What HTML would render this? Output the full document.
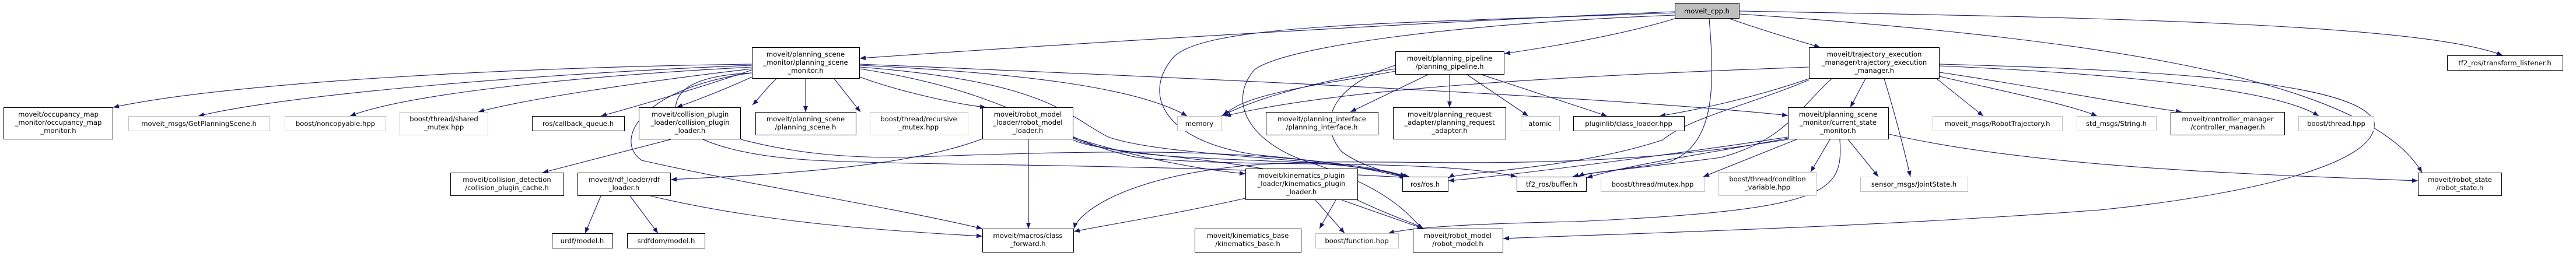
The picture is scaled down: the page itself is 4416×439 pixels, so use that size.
<!DOCTYPE html>
<html><head><meta charset="utf-8"><style>
html,body{margin:0;padding:0;background:#fff;}
svg{display:block;}
text{font-family:"DejaVu Sans","Liberation Sans",sans-serif;font-size:11.6px;fill:#000;text-anchor:middle;}
.n rect{fill:#fff;stroke:#000;stroke-width:1;}
.g rect{fill:#fff;stroke:#bfbfbf;stroke-width:1;}
.e{fill:none;stroke:#191970;stroke-width:1.1;marker-end:url(#a);}
</style></head><body>
<svg width="4416" height="439" viewBox="0 0 4416 439" xmlns="http://www.w3.org/2000/svg">
<defs><marker id="a" viewBox="0 0 10 8" refX="10" refY="4" markerWidth="10" markerHeight="8" markerUnits="userSpaceOnUse" orient="auto"><path d="M0,0 L10,4 L0,8 z" fill="#191970"/></marker></defs>

<!-- edges from moveit_cpp -->
<path class="e" d="M2871,20 C2500,35 1900,70 1474,100"/>
<path class="e" d="M2871,32 C2780,60 2660,80 2579,92"/>
<path class="e" d="M2965,32 C3030,55 3090,72 3120,81"/>
<path class="e" d="M2982,19 C3600,30 4150,40 4290,95"/>
<path class="e" d="M2982,24 C3500,60 4050,120 4152,296"/>
<path class="e" d="M2930,32 C2940,150 2940,250 2860,278 C2790,290 2730,295 2696,303"/>
<path class="e" d="M2871,22 C2400,40 2060,40 2010,100 C1960,160 1990,240 2150,265 C2300,280 2380,290 2410,303"/>
<path class="e" d="M2871,26 C2500,40 2200,80 2150,120 C2100,180 2150,250 2250,280 C2400,330 2420,380 2440,392"/>

<!-- edges from planning_scene_monitor -->
<path class="e" d="M1289,110 C900,115 400,140 194,184"/>
<path class="e" d="M1289,112 C950,125 500,160 340,199"/>
<path class="e" d="M1289,115 C1000,130 700,160 600,199"/>
<path class="e" d="M1289,118 C1100,140 900,170 820,192"/>
<path class="e" d="M1289,120 C1200,150 1100,180 1030,199"/>
<path class="e" d="M1289,132 C1250,150 1200,170 1160,184"/>
<path class="e" d="M1331,135 C1310,155 1300,170 1290,180"/>
<path class="e" d="M1381,135 L1381,192"/>
<path class="e" d="M1430,135 L1475,192"/>
<path class="e" d="M1474,132 C1550,160 1650,180 1690,184"/>
<path class="e" d="M1474,112 C1750,125 1950,150 2035,199"/>
<path class="e" d="M1474,110 C2200,140 2800,170 3065,198"/>
<path class="e" d="M1474,115 C1800,140 1830,200 1900,235 C2000,270 2300,270 2410,303"/>
<path class="e" d="M1474,118 C1750,160 1800,240 1950,270 C2150,290 2450,270 2600,303"/>
<path class="e" d="M1289,125 C1180,130 1150,160 1160,200 C1180,250 1300,270 1400,275 C1600,285 2000,280 2420,305"/>
<path class="e" d="M1289,125 C1100,150 1050,240 1100,275 C1300,320 1500,350 1684,392"/>

<!-- collision_plugin_loader -->
<path class="e" d="M1150,239 L930,296"/>
<path class="e" d="M1270,239 C1350,260 1450,275 1600,268 C1900,258 2200,250 2410,305"/>

<!-- robot_model_loader -->
<path class="e" d="M1684,238 C1550,290 1300,300 1150,308"/>
<path class="e" d="M1763,239 L1763,392"/>
<path class="e" d="M1840,236 C1950,270 2050,290 2135,298"/>
<path class="e" d="M1840,237 C1950,290 2300,260 2410,305"/>
<path class="e" d="M1840,240 C1900,270 2200,270 2300,330 C2380,370 2420,380 2440,392"/>

<!-- rdf_loader -->
<path class="e" d="M1030,336 L1003,400"/>
<path class="e" d="M1080,336 L1128,400"/>
<path class="e" d="M1115,336 C1300,380 1500,395 1684,405"/>

<!-- kinematics_plugin_loader -->
<path class="e" d="M2135,340 C2000,370 1900,385 1841,397"/>
<path class="e" d="M2290,343 L2262,392"/>
<path class="e" d="M2255,343 L2305,400"/>
<path class="e" d="M2300,343 L2440,392"/>

<!-- planning_pipeline -->
<path class="e" d="M2448,128 L2315,192"/>
<path class="e" d="M2485,128 L2485,184"/>
<path class="e" d="M2515,128 L2620,199"/>
<path class="e" d="M2540,128 L2755,199"/>
<path class="e" d="M2392,118 C2250,140 2150,170 2094,199"/>
<path class="e" d="M2392,122 C2300,140 2120,160 2100,199"/>
<path class="e" d="M2392,112 C2300,140 2250,200 2300,260 C2340,290 2400,300 2416,303"/>

<!-- trajectory_execution_manager -->
<path class="e" d="M3101,135 C3000,170 2900,190 2845,199"/>
<path class="e" d="M3198,135 L3172,184"/>
<path class="e" d="M3230,135 C3250,200 3265,260 3275,303"/>
<path class="e" d="M3320,135 L3400,199"/>
<path class="e" d="M3325,131 C3450,160 3550,180 3595,199"/>
<path class="e" d="M3325,124 C3500,150 3650,180 3740,192"/>
<path class="e" d="M3325,113 C3600,125 3900,150 3975,199"/>
<path class="e" d="M3101,115 C2700,130 2300,150 2100,199"/>
<path class="e" d="M3101,137 C3000,180 2900,200 2850,240 C2700,290 2500,295 2483,305"/>
<path class="e" d="M3140,135 C3080,190 3060,240 2950,270 C2800,290 2720,295 2706,303"/>
<path class="e" d="M3325,110 C3700,120 4050,140 4070,210 C4080,290 3800,340 3600,360 C3200,390 2800,400 2577,409"/>

<!-- current_state_monitor -->
<path class="e" d="M3065,235 C2900,260 2600,300 2483,310"/>
<path class="e" d="M3065,237 C2950,260 2800,280 2720,305"/>
<path class="e" d="M3080,239 L2920,303"/>
<path class="e" d="M3137,239 L3104,295"/>
<path class="e" d="M3168,239 L3220,303"/>
<path class="e" d="M3154,239 C3160,330 3140,360 2700,380 C2450,385 2400,395 2380,400"/>
<path class="e" d="M3238,230 C3500,290 3900,300 4145,310"/>
<path class="e" d="M3065,239 C2700,300 2400,270 2200,280 C1950,290 1850,360 1841,392"/>

<!-- nodes -->
<g class="n"><rect x="2871.5" y="5.5" width="110" height="26" style="fill:#bfbfbf"/><text x="2926" y="23">moveit_cpp.h</text></g>
<g class="n"><rect x="1289.5" y="81.5" width="184" height="53"/><text x="1381" y="97">moveit/planning_scene</text><text x="1381" y="111">_monitor/planning_scene</text><text x="1381" y="125">_monitor.h</text></g>
<g class="n"><rect x="2392.5" y="88.5" width="186" height="39"/><text x="2485" y="104">moveit/planning_pipeline</text><text x="2485" y="118">/planning_pipeline.h</text></g>
<g class="n"><rect x="3101.5" y="81.5" width="223" height="53"/><text x="3213" y="97">moveit/trajectory_execution</text><text x="3213" y="111">_manager/trajectory_execution</text><text x="3213" y="125">_manager.h</text></g>
<g class="n"><rect x="4195.5" y="95.5" width="198" height="25"/><text x="4294" y="112">tf2_ros/transform_listener.h</text></g>

<g class="n"><rect x="6.5" y="184.5" width="187" height="54"/><text x="100" y="200">moveit/occupancy_map</text><text x="100" y="214">_monitor/occupancy_map</text><text x="100" y="228">_monitor.h</text></g>
<g class="g"><rect x="220.5" y="199.5" width="242" height="25"/><text x="341" y="216">moveit_msgs/GetPlanningScene.h</text></g>
<g class="g"><rect x="488.5" y="199.5" width="173" height="25"/><text x="575" y="216">boost/noncopyable.hpp</text></g>
<g class="g"><rect x="685.5" y="192.5" width="151" height="39"/><text x="761" y="208">boost/thread/shared</text><text x="761" y="222">_mutex.hpp</text></g>
<g class="n"><rect x="912.5" y="199.5" width="158" height="25"/><text x="991" y="216">ros/callback_queue.h</text></g>
<g class="n"><rect x="1095.5" y="184.5" width="174" height="54"/><text x="1183" y="200">moveit/collision_plugin</text><text x="1183" y="214">_loader/collision_plugin</text><text x="1183" y="228">_loader.h</text></g>
<g class="n"><rect x="1295.5" y="192.5" width="172" height="39"/><text x="1381" y="208">moveit/planning_scene</text><text x="1381" y="222">/planning_scene.h</text></g>
<g class="g"><rect x="1491.5" y="192.5" width="168" height="39"/><text x="1575" y="208">boost/thread/recursive</text><text x="1575" y="222">_mutex.hpp</text></g>
<g class="n"><rect x="1684.5" y="184.5" width="155" height="54"/><text x="1762" y="200">moveit/robot_model</text><text x="1762" y="214">_loader/robot_model</text><text x="1762" y="228">_loader.h</text></g>
<g class="g"><rect x="2018.5" y="199.5" width="75" height="25"/><text x="2056" y="216">memory</text></g>
<g class="n"><rect x="2170.5" y="192.5" width="192" height="39"/><text x="2266" y="208">moveit/planning_interface</text><text x="2266" y="222">/planning_interface.h</text></g>
<g class="n"><rect x="2388.5" y="184.5" width="193" height="54"/><text x="2485" y="200">moveit/planning_request</text><text x="2485" y="214">_adapter/planning_request</text><text x="2485" y="228">_adapter.h</text></g>
<g class="g"><rect x="2607.5" y="199.5" width="66" height="25"/><text x="2640" y="216">atomic</text></g>
<g class="n"><rect x="2697.5" y="199.5" width="190" height="25"/><text x="2792" y="216">pluginlib/class_loader.hpp</text></g>
<g class="n"><rect x="3065.5" y="184.5" width="172" height="54"/><text x="3151" y="200">moveit/planning_scene</text><text x="3151" y="214">_monitor/current_state</text><text x="3151" y="228">_monitor.h</text></g>
<g class="g"><rect x="3313.5" y="199.5" width="222" height="25"/><text x="3424" y="216">moveit_msgs/RobotTrajectory.h</text></g>
<g class="g"><rect x="3560.5" y="199.5" width="136" height="25"/><text x="3628" y="216">std_msgs/String.h</text></g>
<g class="n"><rect x="3721.5" y="192.5" width="195" height="39"/><text x="3819" y="208">moveit/controller_manager</text><text x="3819" y="222">/controller_manager.h</text></g>
<g class="g"><rect x="3940.5" y="199.5" width="129" height="25"/><text x="4005" y="216">boost/thread.hpp</text></g>

<g class="n"><rect x="772.5" y="296.5" width="194" height="39"/><text x="869" y="312">moveit/collision_detection</text><text x="869" y="326">/collision_plugin_cache.h</text></g>
<g class="n"><rect x="990.5" y="296.5" width="159" height="39"/><text x="1070" y="312">moveit/rdf_loader/rdf</text><text x="1070" y="326">_loader.h</text></g>
<g class="n"><rect x="2135.5" y="289.5" width="192" height="53"/><text x="2231" y="305">moveit/kinematics_plugin</text><text x="2231" y="319">_loader/kinematics_plugin</text><text x="2231" y="333">_loader.h</text></g>
<g class="n"><rect x="2404.5" y="303.5" width="78" height="25"/><text x="2443" y="320">ros/ros.h</text></g>
<g class="n"><rect x="2600.5" y="303.5" width="119" height="25"/><text x="2660" y="320">tf2_ros/buffer.h</text></g>
<g class="g"><rect x="2744.5" y="303.5" width="178" height="25"/><text x="2833" y="320">boost/thread/mutex.hpp</text></g>
<g class="g"><rect x="2946.5" y="295.5" width="167" height="40"/><text x="3030" y="311">boost/thread/condition</text><text x="3030" y="325">_variable.hpp</text></g>
<g class="g"><rect x="3189.5" y="303.5" width="184" height="25"/><text x="3281" y="320">sensor_msgs/JointState.h</text></g>
<g class="n"><rect x="4145.5" y="296.5" width="143" height="39"/><text x="4217" y="312">moveit/robot_state</text><text x="4217" y="326">/robot_state.h</text></g>

<g class="n"><rect x="946.5" y="400.5" width="104" height="25"/><text x="998" y="417">urdf/model.h</text></g>
<g class="n"><rect x="1075.5" y="400.5" width="133" height="25"/><text x="1142" y="417">srdfdom/model.h</text></g>
<g class="n"><rect x="1684.5" y="392.5" width="156" height="40"/><text x="1762" y="408">moveit/macros/class</text><text x="1762" y="422">_forward.h</text></g>
<g class="n"><rect x="2048.5" y="392.5" width="182" height="40"/><text x="2139" y="408">moveit/kinematics_base</text><text x="2139" y="422">/kinematics_base.h</text></g>
<g class="g"><rect x="2255.5" y="400.5" width="142" height="25"/><text x="2326" y="417">boost/function.hpp</text></g>
<g class="n"><rect x="2422.5" y="392.5" width="154" height="40"/><text x="2499" y="408">moveit/robot_model</text><text x="2499" y="422">/robot_model.h</text></g>
</svg>
</body></html>
